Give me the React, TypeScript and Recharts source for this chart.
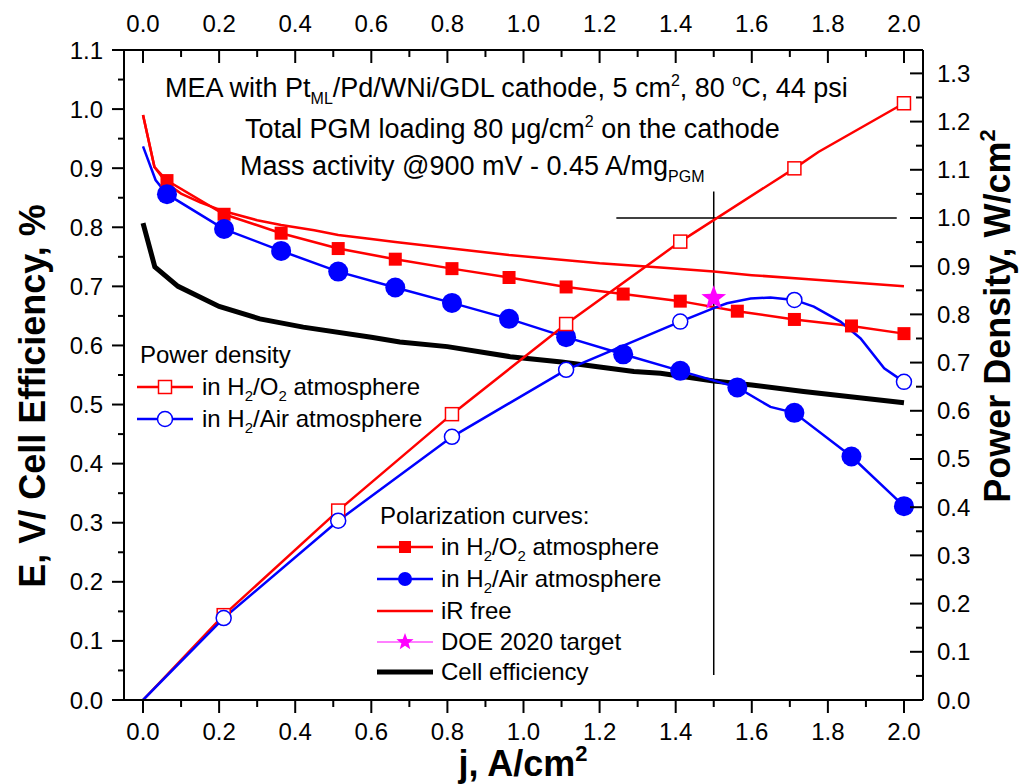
import React from 'react'
import { ComposedChart, Line, Scatter, XAxis, YAxis, ReferenceLine } from 'recharts'

const FONT = '"Liberation Sans", Arial, sans-serif'
const RED = '#ff0000'
const BLUE = '#0000ff'
const MAGENTA = '#ff00ff'

// current density (A/cm2) where the polarization markers sit
const J_POL = [0.063, 0.213, 0.363, 0.513, 0.663, 0.812, 0.962, 1.112, 1.262, 1.412, 1.562, 1.712, 1.862, 2.0]
const E_O2 = [0.879, 0.822, 0.79, 0.764, 0.746, 0.73, 0.715, 0.699, 0.687, 0.675, 0.658, 0.644, 0.633, 0.62]
const E_AIR = [0.856, 0.797, 0.76, 0.725, 0.698, 0.672, 0.645, 0.614, 0.585, 0.557, 0.529, 0.486, 0.412, 0.328]
// unmarked points of the polarization curves
const E_O2_EXTRA: [number, number][] = [[0, 0.99], [0.03, 0.902]]
const E_AIR_EXTRA: [number, number][] = [[0, 0.937], [0.033, 0.88], [1.649, 0.496]]

const IR_FREE: [number, number][] = [
  [0, 0.99], [0.03, 0.902], [0.063, 0.874], [0.1, 0.857], [0.15, 0.842], [0.213, 0.827], [0.3, 0.812],
  [0.363, 0.804], [0.45, 0.795], [0.513, 0.787], [0.6, 0.78], [0.663, 0.775], [0.8, 0.765], [0.962, 0.753],
  [1.2, 0.739], [1.36, 0.732], [1.5, 0.725], [1.6, 0.719], [1.75, 0.712], [2.0, 0.7],
]
const CELL_EFF: [number, number][] = [
  [0, 0.807], [0.031, 0.733], [0.092, 0.7], [0.2, 0.666], [0.307, 0.645], [0.421, 0.631], [0.6, 0.614],
  [0.675, 0.606], [0.8, 0.598], [0.965, 0.581], [1.1, 0.572], [1.29, 0.556], [1.36, 0.553], [1.5, 0.54],
  [1.6, 0.533], [1.736, 0.522], [2.0, 0.503],
]

// power density (W/cm2), right axis
const J_PD = [0.212, 0.513, 0.812, 1.112, 1.412, 1.712, 2.0]
const PD_O2 = [0.176, 0.393, 0.593, 0.78, 0.951, 1.103, 1.238]
const PD_AIR = [0.17, 0.372, 0.546, 0.685, 0.785, 0.83, 0.66]
const PD_O2_EXTRA: [number, number][] = [[0, 0], [1.775, 1.137]]
const PD_AIR_EXTRA: [number, number][] = [
  [0, 0], [1.5, 0.813], [1.535, 0.823], [1.597, 0.833], [1.649, 0.835], [1.763, 0.816],
  [1.833, 0.785], [1.886, 0.75], [1.948, 0.688],
]

const DOE_TARGET = [{ x: 1.5, y: 0.68 }]
const CROSS_H = { x1: 1.244, x2: 1.981, y: 1.0 }
const CROSS_V = { x: 1.5, y1: 0.052, y2: 1.055 }

const X_TICKS = [0, 0.1, 0.2, 0.3, 0.4, 0.5, 0.6, 0.7, 0.8, 0.9, 1.0, 1.1, 1.2, 1.3, 1.4, 1.5, 1.6, 1.7, 1.8, 1.9, 2.0]
const YL_TICKS = [0, 0.05, 0.1, 0.15, 0.2, 0.25, 0.3, 0.35, 0.4, 0.45, 0.5, 0.55, 0.6, 0.65, 0.7, 0.75, 0.8, 0.85, 0.9, 0.95, 1.0, 1.05, 1.1]
const YR_TICKS = [0, 0.05, 0.1, 0.15, 0.2, 0.25, 0.3, 0.35, 0.4, 0.45, 0.5, 0.55, 0.6, 0.65, 0.7, 0.75, 0.8, 0.85, 0.9, 0.95, 1.0, 1.05, 1.1, 1.15, 1.2, 1.25, 1.3]

const toPts = (pairs: [number, number][]) => pairs.map(([x, y]) => ({ x, y })).sort((a, b) => a.x - b.x)
const zipPts = (xs: number[], ys: number[]) => xs.map((x, i) => ({ x, y: ys[i] }))

const o2Marks = zipPts(J_POL, E_O2)
const airMarks = zipPts(J_POL, E_AIR)
const o2Line = [...toPts(E_O2_EXTRA), ...o2Marks].sort((a, b) => a.x - b.x)
const airLine = [...toPts(E_AIR_EXTRA), ...airMarks].sort((a, b) => a.x - b.x)
const pdO2Marks = zipPts(J_PD, PD_O2)
const pdAirMarks = zipPts(J_PD, PD_AIR)
const pdO2Line = [...toPts(PD_O2_EXTRA), ...pdO2Marks].sort((a, b) => a.x - b.x)
const pdAirLine = [...toPts(PD_AIR_EXTRA), ...pdAirMarks].sort((a, b) => a.x - b.x)

const tickText = { fontFamily: FONT, fontSize: 24, fill: '#000' }

const isMajorX = (v: number) => Math.round(v * 10) % 2 === 0
const isMajorY = (v: number) => Math.round(v * 20) % 2 === 0

const BottomTick = ({ x, y, payload }: any) => {
  const major = isMajorX(payload.value)
  return (
    <g>
      <line x1={x} y1={y} x2={x} y2={y + (major ? 13 : 7)} stroke="#000" strokeWidth={2} />
      {major && <text x={x} y={y + 40} textAnchor="middle" {...tickText}>{payload.value.toFixed(1)}</text>}
    </g>
  )
}

const TopTick = ({ x, y, payload }: any) => {
  const major = isMajorX(payload.value)
  return (
    <g>
      <line x1={x} y1={y} x2={x} y2={y + (major ? 13 : 7)} stroke="#000" strokeWidth={2} />
      {major && <text x={x} y={y - 18} textAnchor="middle" {...tickText}>{payload.value.toFixed(1)}</text>}
    </g>
  )
}

const LeftTick = ({ x, y, payload }: any) => {
  const major = isMajorY(payload.value)
  return (
    <g>
      <line x1={x} y1={y} x2={x - (major ? 12 : 6)} y2={y} stroke="#000" strokeWidth={2} />
      {major && <text x={103} y={y + 8.5} textAnchor="end" {...tickText}>{payload.value.toFixed(1)}</text>}
    </g>
  )
}

const RightTick = ({ x, y, payload }: any) => {
  const major = isMajorY(payload.value)
  return (
    <g>
      <line x1={x} y1={y} x2={x - (major ? 13 : 7)} y2={y} stroke="#000" strokeWidth={2} />
      {major && <text x={937} y={y + 8.5} textAnchor="start" {...tickText}>{payload.value.toFixed(1)}</text>}
    </g>
  )
}

const starPoints = (cx: number, cy: number, r: number) => {
  const pts: string[] = []
  for (let i = 0; i < 10; i++) {
    const rad = i % 2 === 0 ? r : r * 0.42
    const a = -Math.PI / 2 + (i * Math.PI) / 5
    pts.push(`${cx + rad * Math.cos(a)},${cy + rad * Math.sin(a)}`)
  }
  return pts.join(' ')
}

const FilledSquare = ({ cx, cy }: any) => <rect x={cx - 6.5} y={cy - 6.5} width={13} height={13} fill={RED} />
const OpenSquare = ({ cx, cy }: any) => (
  <rect x={cx - 6.5} y={cy - 6.5} width={13} height={13} fill="#fff" stroke={RED} strokeWidth={1.5} />
)
const FilledCircle = ({ cx, cy }: any) => <circle cx={cx} cy={cy} r={10} fill={BLUE} />
const OpenCircle = ({ cx, cy }: any) => <circle cx={cx} cy={cy} r={7.5} fill="#fff" stroke={BLUE} strokeWidth={1.5} />
const Star = ({ cx, cy }: any) => <polygon points={starPoints(cx, cy, 13)} fill={MAGENTA} />

// rich text: parts are [text, shift] with shift 0 = normal, >0 = subscript, <0 = superscript
type Part = [string, number]
const rich = (parts: Part[], small: number) => {
  let cur = 0
  return parts.map(([s, shift], i) => {
    const dy = shift - cur
    cur = shift
    return (
      <tspan key={i} dy={dy || undefined} fontSize={shift !== 0 ? small : undefined}>{s}</tspan>
    )
  })
}

function Overlay() {
  const t = { fontFamily: FONT, fill: '#000' }
  const lg = { ...t, fontSize: 24 }
  return (
    <svg width={1021} height={784} style={{ position: 'absolute', left: 0, top: 0, pointerEvents: 'none' }}>
      {/* annotation */}
      <text x={165} y={97} {...t} fontSize={27}>
        {rich([['MEA with Pt', 0], ['ML', 7], ['/Pd/WNi/GDL cathode, 5 cm', 0], ['2', -11], [', 80 ', 0], ['o', -11], ['C, 44 psi', 0]], 16)}
      </text>
      <text x={245} y={138} {...t} fontSize={27}>
        {rich([['Total PGM loading 80 μg/cm', 0], ['2', -11], [' on the cathode', 0]], 16)}
      </text>
      <text x={240} y={175} {...t} fontSize={27}>
        {rich([['Mass activity @900 mV - 0.45 A/mg', 0], ['PGM', 7]], 16)}
      </text>

      {/* axis titles */}
      <text transform="translate(45,396) rotate(-90)" textAnchor="middle" {...t} fontSize={36} fontWeight="bold">
        E, V/ Cell Efficiency, %
      </text>
      <text transform="translate(1010,316) rotate(-90)" textAnchor="middle" {...t} fontSize={36} fontWeight="bold">
        {rich([['Power Density, W/cm', 0], ['2', -15]], 22)}
      </text>
      <text x={523} y={776} textAnchor="middle" {...t} fontSize={36} fontWeight="bold">
        {rich([['j, A/cm', 0], ['2', -15]], 22)}
      </text>

      {/* power density legend */}
      <text x={140} y={363} {...lg}>Power density</text>
      <line x1={137} x2={193} y1={387} y2={387} stroke={RED} strokeWidth={2.5} />
      <OpenSquare cx={165} cy={387} />
      <text x={202} y={395} {...lg}>{rich([['in H', 0], ['2', 6], ['/O', 0], ['2', 6], [' atmosphere', 0]], 15)}</text>
      <line x1={137} x2={193} y1={419} y2={419} stroke={BLUE} strokeWidth={2.5} />
      <OpenCircle cx={165} cy={419} />
      <text x={202} y={427} {...lg}>{rich([['in H', 0], ['2', 6], ['/Air atmosphere', 0]], 15)}</text>

      {/* polarization legend */}
      <text x={380} y={524} {...lg}>Polarization curves:</text>
      <line x1={377} x2={433} y1={547} y2={547} stroke={RED} strokeWidth={2.5} />
      <rect x={399} y={541} width={12} height={12} fill={RED} />
      <text x={441} y={555} {...lg}>{rich([['in H', 0], ['2', 6], ['/O', 0], ['2', 6], [' atmosphere', 0]], 15)}</text>
      <line x1={377} x2={433} y1={579} y2={579} stroke={BLUE} strokeWidth={2.5} />
      <circle cx={405} cy={579} r={7} fill={BLUE} />
      <text x={441} y={587} {...lg}>{rich([['in H', 0], ['2', 6], ['/Air atmosphere', 0]], 15)}</text>
      <line x1={377} x2={433} y1={611} y2={611} stroke={RED} strokeWidth={2.5} />
      <text x={441} y={619} {...lg}>iR free</text>
      <line x1={377} x2={433} y1={642} y2={642} stroke={MAGENTA} strokeWidth={1} />
      <polygon points={starPoints(405, 642, 9)} fill={MAGENTA} />
      <text x={441} y={650} {...lg}>DOE 2020 target</text>
      <line x1={377} x2={433} y1={672} y2={672} stroke="#000" strokeWidth={5} />
      <text x={441} y={680} {...lg}>Cell efficiency</text>
    </svg>
  )
}

export default function App() {
  const axisLine = { stroke: '#000', strokeWidth: 2 }
  return (
    <div style={{ position: 'absolute', left: 0, top: 0, width: 1021, height: 784, background: '#fff' }}>
      <ComposedChart width={1021} height={784} margin={{ top: 0, right: 0, bottom: 0, left: 0 }}>
        <XAxis xAxisId="b" type="number" dataKey="x" orientation="bottom" domain={[-0.05, 2.05]} allowDataOverflow
          ticks={X_TICKS} interval={0} height={84} tickSize={0} tickMargin={0} axisLine={axisLine} tickLine={false} tick={BottomTick} />
        <XAxis xAxisId="t" type="number" dataKey="x" orientation="top" domain={[-0.05, 2.05]} allowDataOverflow
          ticks={X_TICKS} interval={0} height={50} tickSize={0} tickMargin={0} axisLine={axisLine} tickLine={false} tick={TopTick} />
        <YAxis yAxisId="l" type="number" dataKey="y" orientation="left" domain={[0, 1.1]} allowDataOverflow
          ticks={YL_TICKS} interval={0} width={124} tickSize={0} tickMargin={0} axisLine={axisLine} tickLine={false} tick={LeftTick} />
        <YAxis yAxisId="r" type="number" dataKey="y" orientation="right" domain={[0, 1.3485]} allowDataOverflow
          ticks={YR_TICKS} interval={0} width={98} tickSize={0} tickMargin={0} axisLine={axisLine} tickLine={false} tick={RightTick} />

        <ReferenceLine xAxisId="b" yAxisId="r" segment={[{ x: CROSS_H.x1, y: CROSS_H.y }, { x: CROSS_H.x2, y: CROSS_H.y }]}
          stroke="#000" strokeWidth={1.5} />
        <ReferenceLine xAxisId="b" yAxisId="r" segment={[{ x: CROSS_V.x, y: CROSS_V.y1 }, { x: CROSS_V.x, y: CROSS_V.y2 }]}
          stroke="#000" strokeWidth={1.5} />

        <Line xAxisId="b" yAxisId="l" data={toPts(CELL_EFF)} dataKey="y" type="linear"
          stroke="#000" strokeWidth={5} dot={false} activeDot={false} isAnimationActive={false} />
        <Line xAxisId="b" yAxisId="l" data={toPts(IR_FREE)} dataKey="y" type="linear"
          stroke={RED} strokeWidth={2.5} dot={false} activeDot={false} isAnimationActive={false} />
        <Line xAxisId="b" yAxisId="l" data={o2Line} dataKey="y" type="linear"
          stroke={RED} strokeWidth={2.5} dot={false} activeDot={false} isAnimationActive={false} />
        <Line xAxisId="b" yAxisId="l" data={airLine} dataKey="y" type="linear"
          stroke={BLUE} strokeWidth={2.5} dot={false} activeDot={false} isAnimationActive={false} />
        <Line xAxisId="b" yAxisId="r" data={pdO2Line} dataKey="y" type="linear"
          stroke={RED} strokeWidth={2.5} dot={false} activeDot={false} isAnimationActive={false} />
        <Line xAxisId="b" yAxisId="r" data={pdAirLine} dataKey="y" type="linear"
          stroke={BLUE} strokeWidth={2.5} dot={false} activeDot={false} isAnimationActive={false} />

        <Scatter xAxisId="b" yAxisId="l" data={o2Marks} dataKey="y" shape={FilledSquare} isAnimationActive={false} />
        <Scatter xAxisId="b" yAxisId="l" data={airMarks} dataKey="y" shape={FilledCircle} isAnimationActive={false} />
        <Scatter xAxisId="b" yAxisId="r" data={pdO2Marks} dataKey="y" shape={OpenSquare} isAnimationActive={false} />
        <Scatter xAxisId="b" yAxisId="r" data={pdAirMarks} dataKey="y" shape={OpenCircle} isAnimationActive={false} />
        <Scatter xAxisId="b" yAxisId="l" data={DOE_TARGET} dataKey="y" shape={Star} isAnimationActive={false} />
      </ComposedChart>
      <Overlay />
    </div>
  )
}
